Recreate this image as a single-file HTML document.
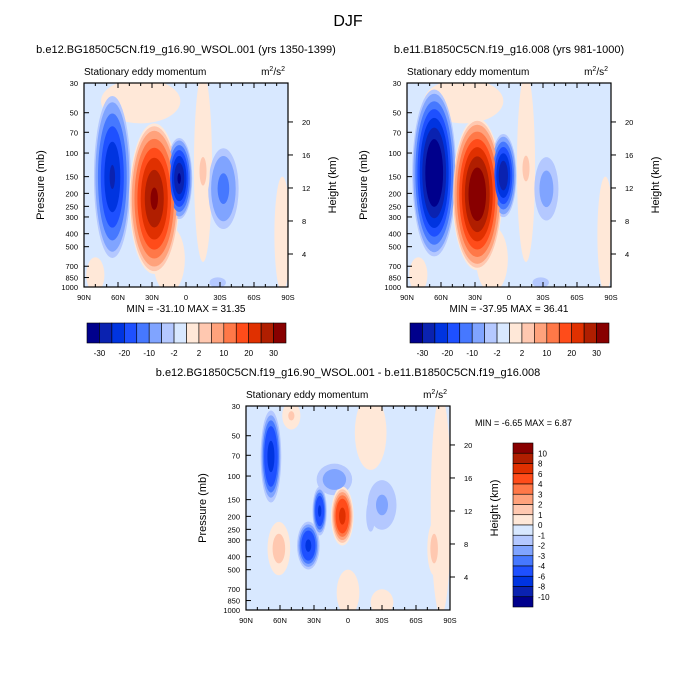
<!DOCTYPE html>
<html><head><meta charset="utf-8"><style>
html,body{margin:0;padding:0;background:#fff;}
svg{display:block;font-family:"Liberation Sans",sans-serif;}
</style></head><body>
<svg id="fig" width="696" height="695" viewBox="0 0 696 695">
<text x="348" y="26" text-anchor="middle" font-size="16">DJF</text>
</svg>
<script>
const colors16 = ["#00008c","#0a22b0","#0034e0","#1e50ff","#4678ff","#80a4ff","#b4c8ff","#d8e8ff","#ffe8d8","#ffc8b0","#ffa27c","#ff7848","#ff4c1a","#e03000","#b01e00","#880000"];
const topLevels = [-30,-25,-20,-15,-10,-5,-2,0,2,5,10,15,20,25,30];
const diffLevels = [-10,-8,-6,-4,-3,-2,-1,0,1,2,3,4,6,8,10];
const pressureTicks = [30,50,70,100,150,200,250,300,400,500,700,850,1000];
const latTicks = [90,60,30,0,-30,-60,-90];
const latLabels = ["90N","60N","30N","0","30S","60S","90S"];
const heightTicks = [4,8,12,16,20];
const topBarLabels = ["-30","-20","-10","-2","2","10","20","30"];
const diffBarLabels = ["10","8","6","4","3","2","1","0","-1","-2","-3","-4","-6","-8","-10"];
// blobs: [lat center, lat half-width, p top, p bottom, peak value]
const blobsA = [[40,35,28,60,1.2],[-15,8,25,650,0.9],[-85,7,150,1100,0.8],[80,8,600,1100,0.8],[15,14,350,1100,0.9],[-28,14,780,1100,-3],
 [65,17,35,650,-26],[28,22,60,800,31.3],[6,12,75,320,-31],[-33,15,85,400,-12],[-15,6,85,220,3]];
const blobsB = [[40,35,28,60,1.2],[-15,8,25,650,0.9],[-85,7,150,1100,0.8],[80,8,600,1100,0.8],[15,14,350,1100,0.9],[-28,14,780,1100,-3],
 [66,20,32,620,-38],[28,22,55,750,36.4],[5,12,70,310,-30],[-33,13,95,360,-7],[-15,6,85,200,3]];
const blobsD = [[-20,14,25,90,0.8],[50,8,28,45,1.2],[-82,9,25,1100,0.7],[0,10,500,1100,0.6],[-30,10,700,1100,0.6],
 [61,10,220,550,1.6],[-76,6,220,550,1.6],
 [68,10,30,170,-7],[12,20,75,150,-3],[25,7,115,290,-6.5],[35,11,210,520,-6.6],[5,10,120,330,6.87],[-30,18,90,300,-2.3],[-20,6,130,300,-2]];

const NS="http://www.w3.org/2000/svg";
const fig=document.getElementById('fig');
function mk(tag,attrs,parent,text){const e=document.createElementNS(NS,tag);for(const k in attrs)e.setAttribute(k,attrs[k]);if(text!==undefined)e.textContent=text;(parent||fig).appendChild(e);return e;}

function panel(id,x0,y0,title,blobs,levels,mm){
  const W=204,H=204;
  const xs=lat=>x0+(90-lat)/180*W;
  const ys=p=>y0+Math.log(p/30)/Math.log(1000/30)*H;
  const g=mk('g',{},fig);
  
  
  const cp=mk('clipPath',{id:'clip-'+id},g);mk('rect',{x:x0,y:y0,width:W,height:H},cp);
  const t=mk('text',{x:x0+W/2,y:y0-30,'text-anchor':'middle','font-size':11},g,title);
  
  const st=mk('text',{x:x0,y:y0-8,'font-size':10},g,'Stationary eddy momentum');
  
  const un=mk('text',{x:x0+W-3,y:y0-8,'font-size':10,'text-anchor':'end'},g);
  
  un.innerHTML='m<tspan dy="-4" font-size="7">2</tspan><tspan dy="4">/s</tspan><tspan dy="-4" font-size="7">2</tspan>';
  const area=mk('g',{'clip-path':'url(#clip-'+id+')'},g);
  
  mk('rect',{x:x0,y:y0,width:W,height:H,fill:colors16[7]},area);
  for(let step=0;step<8;step++){
    blobs.forEach((b,bi)=>{
      const [lat,hw,pt,pb,v]=b;
      let thr,ci;
      if(v>0){ci=8+step;thr=levels[7+step];if(ci>15||!(v>thr))return;}
      else{ci=6-step;thr=levels[6-step];if(ci<0||!(v<thr))return;}
      const s=Math.pow(1-thr/v,0.6);
      const ya=ys(pt),yb=ys(pb);
      const cx=xs(lat),cy=(ya+yb)/2,rx=hw/180*W*s,ry=(yb-ya)/2*s;
      const e=mk('ellipse',{cx:cx,cy:cy,rx:Math.max(rx,0.5),ry:Math.max(ry,0.5),fill:colors16[ci]},area);
      
      
    });
  }
  mk('rect',{x:x0,y:y0,width:W,height:H,fill:'none',stroke:'#000','stroke-width':1.2},g);
  pressureTicks.forEach(p=>{const y=ys(p);
    mk('line',{x1:x0,x2:x0+5,y1:y,y2:y,stroke:'#000'},g);
    const l=mk('text',{x:x0-6,y:y+3,'font-size':7.5,'text-anchor':'end'},g,String(p));
    });
  for(let la=80;la>=-80;la-=10){const x=xs(la);mk('line',{x1:x,x2:x,y1:y0+H,y2:y0+H-(la%30===0?5:3),stroke:'#000'},g);mk('line',{x1:x,x2:x,y1:y0,y2:y0+(la%30===0?5:3),stroke:'#000'},g);}
  latTicks.forEach((la,i)=>{const l=mk('text',{x:xs(la),y:y0+H+13,'font-size':7.5,'text-anchor':'middle'},g,latLabels[i]);
    });
  heightTicks.forEach(h=>{const y=ys(1000*Math.exp(-h/7.05));
    mk('line',{x1:x0+W,x2:x0+W+5,y1:y,y2:y,stroke:'#000'},g);
    const l=mk('text',{x:x0+W+14,y:y+3,'font-size':7.5},g,String(h));
    });
  const yl=mk('text',{x:0,y:0,'font-size':11,'text-anchor':'middle',transform:`translate(${x0-40},${y0+H/2}) rotate(-90)`},g,'Pressure (mb)');
  
  const yr=mk('text',{x:0,y:0,'font-size':11,'text-anchor':'middle',transform:`translate(${x0+W+48},${y0+H/2}) rotate(-90)`},g,'Height (km)');
  
  if(mm){const m=mk('text',{x:x0+W/2,y:y0+H+25,'font-size':10,'text-anchor':'middle'},g,mm);
    }
}
function hbar(id,x0,y0){
  const bw=199/16;
  const g=mk('g',{},fig);
  colors16.forEach((c,i)=>{const r=mk('rect',{x:x0+i*bw,y:y0,width:bw,height:20,fill:c,stroke:'#000','stroke-width':0.6},g);
    });
  topBarLabels.forEach((t,i)=>{const l=mk('text',{x:x0+(2*i+1)*bw,y:y0+33,'font-size':8,'text-anchor':'middle'},g,t);
    });
}
panel('panel-a',84,83,'b.e12.BG1850C5CN.f19_g16.90_WSOL.001 (yrs 1350-1399)',blobsA,topLevels,'MIN = -31.10  MAX =  31.35');
panel('panel-b',407,83,'b.e11.B1850C5CN.f19_g16.008 (yrs 981-1000)',blobsB,topLevels,'MIN = -37.95  MAX =  36.41');
panel('panel-diff',246,406,'b.e12.BG1850C5CN.f19_g16.90_WSOL.001 - b.e11.B1850C5CN.f19_g16.008',blobsD,diffLevels,null);
hbar('colorbar-a',87,323);
hbar('colorbar-b',410,323);
(function(){
  const x0=513,y0=443,bh=164/16;
  const g=mk('g',{},fig);
  colors16.slice().reverse().forEach((c,i)=>{const r=mk('rect',{x:x0,y:y0+i*bh,width:20,height:bh,fill:c,stroke:'#000','stroke-width':0.6},g);
    });
  diffBarLabels.forEach((t,i)=>{const l=mk('text',{x:x0+25,y:y0+(i+1)*bh+3,'font-size':8},g,t);
    });
  const m=mk('text',{x:475,y:426,'font-size':9},g,'MIN =  -6.65  MAX =   6.87');
  
})();
</script>
</body></html>
